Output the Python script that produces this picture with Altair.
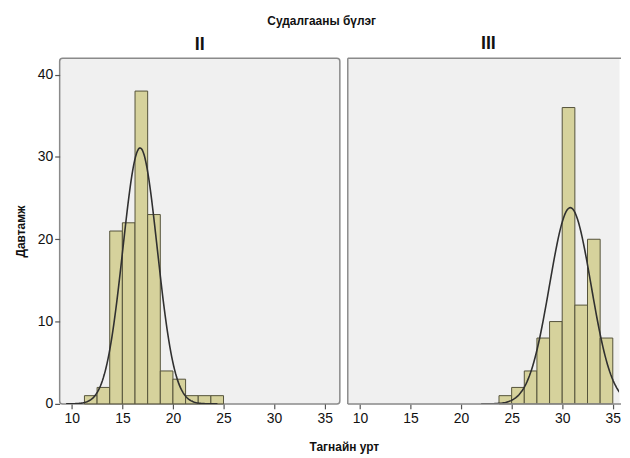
import altair as alt
import numpy as np
import pandas as pd

# ---- data ----
groups = ["II", "III"]
bin_width = 1.25
bins_II = [11.25, 12.5, 13.75, 15.0, 16.25, 17.5, 18.75, 20.0, 21.25, 22.5, 23.75]
counts_II = [1, 2, 21, 22, 38, 23, 4, 3, 1, 1, 1]
bins_III = [23.75, 25.0, 26.25, 27.5, 28.75, 30.0, 31.25, 32.5, 33.75]
counts_III = [1, 2, 4, 8, 10, 36, 12, 20, 8]

# fitted normal curve parameters (mean, sd, n) per group
curve_mean = [16.75, 30.8]
curve_sd = [1.7, 2.05]
curve_n = [106, 98]

x_ticks = [10, 15, 20, 25, 30, 35]
y_ticks = [0, 10, 20, 30, 40]

# ---- build table ----
rows = []
for g, starts, counts in [("II", bins_II, counts_II), ("III", bins_III, counts_III)]:
    for s, c in zip(starts, counts):
        rows.append({"group": g, "kind": "bar", "x0": s, "x1": s + bin_width, "count": c})
for g, m, sd, n in zip(groups, curve_mean, curve_sd, curve_n):
    xs = np.linspace(m - 4.3 * sd, m + 4.5 * sd, 160)
    ys = n * bin_width * np.exp(-0.5 * ((xs - m) / sd) ** 2) / (sd * np.sqrt(2 * np.pi))
    for xv, yv in zip(xs, ys):
        rows.append({"group": g, "kind": "curve", "x0": float(xv), "x1": float(xv), "count": float(yv)})
df = pd.DataFrame(rows)

FONT = "Liberation Sans"
FRAME = "#8a8a8a"
W1, W2, H = 282, 273, 348
X_MIN = 8.8
PX_PER_UNIT = W1 / (36.5 - X_MIN)
xscale1 = alt.Scale(domain=[X_MIN, 36.5], nice=False, zero=False)
xscale2 = alt.Scale(domain=[X_MIN, X_MIN + W2 / PX_PER_UNIT], nice=False, zero=False)
yscale = alt.Scale(domain=[0, 42.0], nice=False)


def panel(g, first):
    base = alt.Chart(df).transform_filter(alt.datum.group == g)
    xscale = xscale1 if first else xscale2
    if first:
        xaxis = alt.Axis(values=x_ticks, title="Тагнайн урт", titleX=286, titleY=43,
                         titleBaseline="middle", titleFontSize=12, titleFontWeight="bold",
                         titleFont=FONT)
        yaxis = alt.Axis(values=y_ticks, title="Давтамж", titleFontSize=12,
                         titleFontWeight="bold", titleFont=FONT, titlePadding=10, labelPadding=2)
    else:
        xaxis = alt.Axis(values=x_ticks, title=None)
        yaxis = None
    bars = base.transform_filter(alt.datum.kind == "bar").mark_rect(
        fill="#d6d29c", stroke="#55533a", strokeWidth=1
    ).encode(
        x=alt.X("x0:Q", scale=xscale, axis=xaxis),
        x2="x1:Q",
        y=alt.Y("count:Q", scale=yscale, axis=yaxis),
    )
    line = base.transform_filter(alt.datum.kind == "curve").mark_line(
        color="#303030", strokeWidth=1.6, clip=True
    ).encode(
        x=alt.X("x0:Q", scale=xscale),
        y=alt.Y("count:Q", scale=yscale),
    )
    layers = [bars, line]
    w = W1 if first else W2
    if first:
        view = alt.ViewBackground(fill="#f0f0f0", stroke=FRAME, strokeWidth=1.5, cornerRadius=3)
    else:
        view = alt.ViewBackground(fill="#f0f0f0", strokeOpacity=0)
        one = alt.Chart(pd.DataFrame({"edge": ["frame"]}))
        rule = dict(color=FRAME, strokeWidth=1.5)
        layers += [
            one.mark_rule(**rule).encode(x=alt.value(0), y=alt.value(0), y2=alt.value(H)),
            one.mark_rule(**rule).encode(x=alt.value(0), x2=alt.value(w + 2), y=alt.value(0)),
            one.mark_rule(**rule).encode(x=alt.value(0), x2=alt.value(w + 2), y=alt.value(H)),
        ]
    return alt.layer(*layers).properties(
        width=w, height=H, view=view,
        title=alt.TitleParams(g, fontSize=18, fontWeight="bold", font=FONT,
                              anchor="middle" if first else "start",
                              dx=0 if first else 134,
                              frame="group", offset=4, color="#111"),
    )


chart = alt.hconcat(panel("II", True), panel("III", False), spacing=8, bounds="flush").properties(
    title=alt.TitleParams("Судалгааны бүлэг", fontSize=12, fontWeight="bold", font=FONT,
                          anchor="middle", dx=4, offset=8, color="#111"),
    background="white",
    padding={"left": 5, "top": 5, "right": 0, "bottom": 5},
).configure_axis(
    grid=False, domain=False, labelFont=FONT, labelFontSize=14, labelColor="#111",
    tickColor="#555", tickSize=5, tickWidth=1.2, labelPadding=3, titleColor="#111",
)

chart.save("out.html", embed_options={"renderer": "svg", "actions": False})
